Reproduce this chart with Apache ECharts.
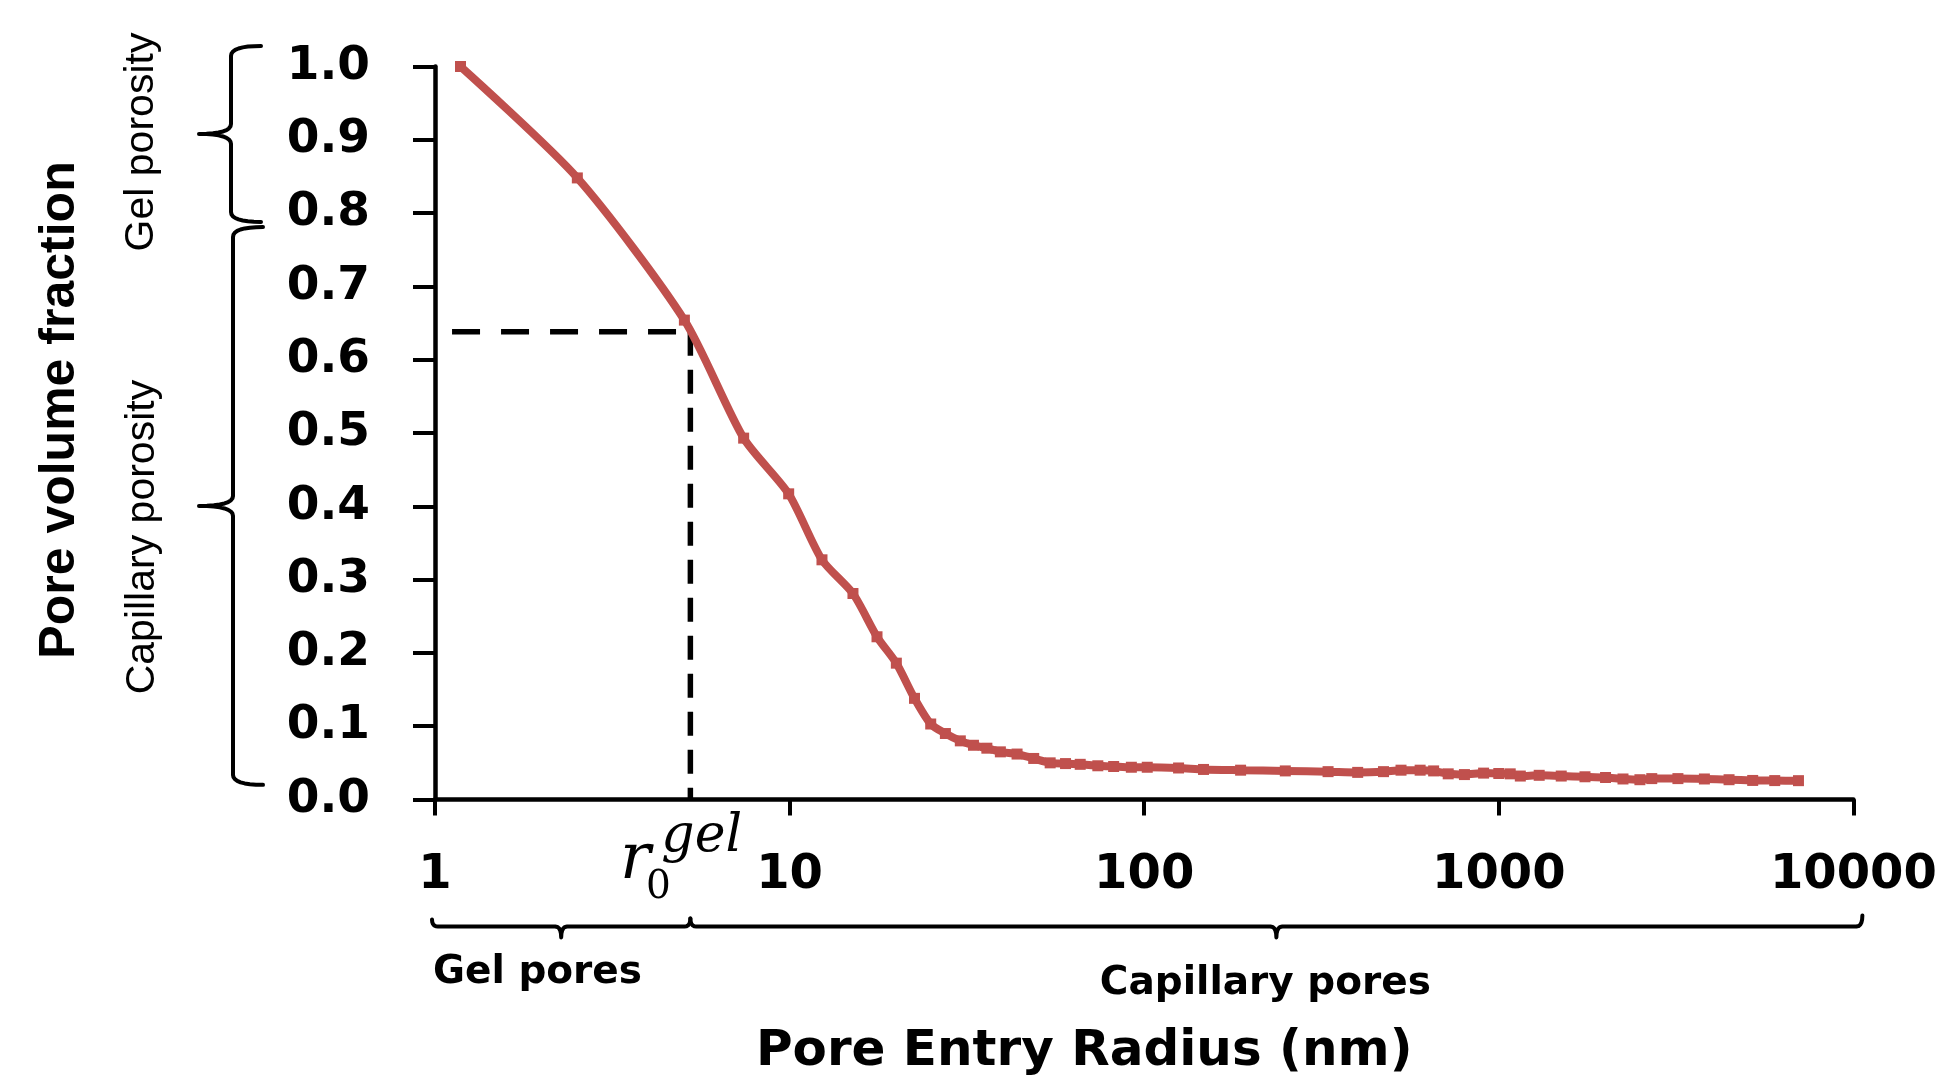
<!DOCTYPE html>
<html>
<head>
<meta charset="utf-8">
<script src="https://cdn.jsdelivr.net/npm/echarts@6/dist/echarts.min.js"></script>
<style>
  html, body { margin: 0; padding: 0; background: #ffffff; }
  #chart { width: 1948px; height: 1080px; }
</style>
</head>
<body>
<div id="chart"></div>
<script>
// Cumulative pore volume fraction against pore entry radius (nm)
const radiusNm = [
  1.18, 2.52, 5.05, 7.42, 9.94, 12.34, 15.09, 17.64, 20.0, 22.5,
  25.0, 27.5, 30.3, 33.0, 36.0, 39.3, 43.8, 48.8, 54.3, 60,
  66, 74, 82, 92, 102, 125, 147, 187, 250, 330,
  400, 473, 530, 600, 655, 720, 800, 906, 1000, 1077,
  1150, 1300, 1500, 1750, 2000, 2240, 2500, 2700, 3200, 3800,
  4460, 5200, 6000, 7000
];
const volumeFraction = [
  1.000, 0.848, 0.654, 0.493, 0.417, 0.327, 0.281, 0.222, 0.186, 0.138,
  0.103, 0.090, 0.080, 0.074, 0.070, 0.065, 0.062, 0.056, 0.050, 0.049,
  0.048, 0.046, 0.045, 0.044, 0.044, 0.043, 0.041, 0.040, 0.039, 0.038,
  0.037, 0.038, 0.040, 0.040, 0.039, 0.035, 0.034, 0.036, 0.0355, 0.035,
  0.032, 0.033, 0.032, 0.031, 0.030, 0.028, 0.027, 0.0285, 0.0285, 0.028,
  0.027, 0.026, 0.0258, 0.0257
];

// Axis ticks
const xTicks = [1, 10, 100, 1000, 10000];
const yTickLabels = ['0.0', '0.1', '0.2', '0.3', '0.4', '0.5', '0.6', '0.7', '0.8', '0.9', '1.0'];

// Gel pore entry radius threshold and the volume fraction it marks
const r0Gel = 5.25;
const r0Fraction = 0.638;
const guideStartRadius = 1.117;

// Annotated ranges
const gelPorosityRange = [0.788, 1.028];
const capillaryPorosityRange = [0.02, 0.781];
const gelPoresRange = [1, r0Gel];
const capillaryPoresRange = [r0Gel, 10600];

const curveData = radiusNm.map((r, i) => [r, volumeFraction[i]]);

const RED = '#C0504D';
const INK = '#000000';

const chart = echarts.init(document.getElementById('chart'), null, { renderer: 'canvas' });

const option = {
  backgroundColor: '#ffffff',
  animation: false,
  grid: { left: 435, right: 94.6, top: 66.5, bottom: 280.5, containLabel: false, outerBoundsMode: 'none' },
  xAxis: {
    type: 'log',
    logBase: 10,
    min: xTicks[0],
    max: xTicks[xTicks.length - 1],
    name: 'Pore Entry Radius (nm)',
    nameLocation: 'middle',
    nameGap: 228,
    nameTextStyle: {
      fontFamily: 'DejaVu Sans', fontWeight: 'bold', fontSize: 50, color: INK,
      padding: [0, 120, 0, 0]
    },
    axisLine: { show: true, onZero: false, lineStyle: { color: INK, width: 4.5 } },
    axisTick: { show: true, inside: false, length: 16, lineStyle: { color: INK, width: 4 } },
    minorTick: { show: false },
    splitLine: { show: false },
    axisLabel: {
      margin: 52,
      fontFamily: 'DejaVu Sans', fontWeight: 'bold', fontSize: 48, color: INK,
      formatter: v => String(Math.round(v))
    }
  },
  yAxis: {
    type: 'value',
    min: 0,
    max: 1,
    interval: 0.1,
    name: 'Pore volume fraction',
    nameLocation: 'middle',
    nameGap: 350,
    nameTextStyle: {
      fontFamily: 'Liberation Sans', fontWeight: 'bold', fontSize: 50, color: INK,
      padding: [0, 0, 0, 46]
    },
    axisLine: { show: true, onZero: false, lineStyle: { color: INK, width: 4.5 } },
    axisTick: { show: true, inside: false, length: 22, lineStyle: { color: INK, width: 4 } },
    splitLine: { show: false },
    axisLabel: {
      margin: 65,
      fontFamily: 'DejaVu Sans', fontWeight: 'bold', fontSize: 47, color: INK,
      formatter: v => yTickLabels[Math.round(v * 10)]
    }
  },
  series: [
    {
      name: 'guide-horizontal',
      type: 'line',
      data: [[guideStartRadius, r0Fraction], [r0Gel, r0Fraction]],
      symbol: 'none',
      silent: true,
      z: 1,
      lineStyle: { color: INK, width: 5.5, type: [28, 21] }
    },
    {
      name: 'guide-vertical',
      type: 'line',
      data: [[r0Gel, r0Fraction], [r0Gel, 0]],
      symbol: 'none',
      silent: true,
      z: 1,
      lineStyle: { color: INK, width: 5.5, type: [24, 14] }
    },
    {
      name: 'Pore volume fraction',
      type: 'line',
      data: curveData,
      smooth: 0.25,
      symbol: 'rect',
      symbolSize: 11,
      showSymbol: true,
      z: 3,
      itemStyle: { color: RED },
      lineStyle: { color: RED, width: 8 }
    }
  ]
};

chart.setOption(option);

// Annotation braces and labels, positioned through the axes
const toPx = (x, y) => chart.convertToPixel({ gridIndex: 0 }, [x, y]);
const axisOrigin = toPx(1, 0);
const axisX = axisOrigin[0];
const axisY = axisOrigin[1];

// Quadratic curve sampled into points (start point excluded)
function quad(p0, c, p1, n) {
  const pts = [];
  for (let i = 1; i <= n; i++) {
    const t = i / n, u = 1 - t;
    pts.push([u * u * p0[0] + 2 * u * t * c[0] + t * t * p1[0],
              u * u * p0[1] + 2 * u * t * c[1] + t * t * p1[1]]);
  }
  return pts;
}

// Curly brace opening to the right, tip pointing left
function verticalBrace(yTop, yBot, xSpine, xHook, xTip) {
  const yMid = (yTop + yBot) / 2;
  const r = 10;
  let pts = [[xHook, yTop]];
  pts = pts.concat(quad([xHook, yTop], [xSpine, yTop], [xSpine, yTop + r], 8));
  pts.push([xSpine, yMid - r]);
  pts = pts.concat(quad([xSpine, yMid - r], [xSpine, yMid], [xTip, yMid], 8));
  pts = pts.concat(quad([xTip, yMid], [xSpine, yMid], [xSpine, yMid + r], 8));
  pts.push([xSpine, yBot - r]);
  pts = pts.concat(quad([xSpine, yBot - r], [xSpine, yBot], [xHook, yBot], 8));
  return pts;
}

// Bracket under the axis, ends bent upward, tip pointing down
function horizontalBrace(xLeft, xRight, y, hookL, hookR, tip) {
  const xMid = (xLeft + xRight) / 2;
  const r = 6;
  let pts = [[xLeft, y - hookL]];
  pts = pts.concat(quad([xLeft, y - hookL], [xLeft, y], [xLeft + r, y], 5));
  pts.push([xMid - r, y]);
  pts = pts.concat(quad([xMid - r, y], [xMid, y], [xMid, y + tip], 5));
  pts = pts.concat(quad([xMid, y + tip], [xMid, y], [xMid + r, y], 5));
  pts.push([xRight - r, y]);
  pts = pts.concat(quad([xRight - r, y], [xRight, y], [xRight, y - hookR], 5));
  return pts;
}

const braceStyle = { stroke: INK, lineWidth: 4, fill: null, lineCap: 'round', lineJoin: 'round' };

const gelTop = toPx(1, gelPorosityRange[1])[1];
const gelBot = toPx(1, gelPorosityRange[0])[1];
const capTop = toPx(1, capillaryPorosityRange[1])[1];
const capBot = toPx(1, capillaryPorosityRange[0])[1];

// Log-scale midpoint of a radius range, in pixels
const logMidPx = range => toPx(Math.sqrt(range[0] * range[1]), 0)[0];

const gelL = toPx(gelPoresRange[0], 0)[0] - 3;
const gelR = toPx(gelPoresRange[1], 0)[0];
const capL = toPx(capillaryPoresRange[0], 0)[0];
const capR = toPx(capillaryPoresRange[1], 0)[0];
const bracketY = axisY + 127;
const xR0 = toPx(r0Gel, 0)[0];

const textBase = { fill: INK };

chart.setOption({
  graphic: [
    { type: 'polyline', silent: true, shape: { points: verticalBrace(gelTop, gelBot, axisX - 204, axisX - 174, axisX - 236) }, style: braceStyle },
    { type: 'polyline', silent: true, shape: { points: verticalBrace(capTop, capBot, axisX - 202, axisX - 172, axisX - 236) }, style: braceStyle },
    { type: 'polyline', silent: true, shape: { points: horizontalBrace(gelL, gelR, bracketY, 7, 8, 11) }, style: braceStyle },
    { type: 'polyline', silent: true, shape: { points: horizontalBrace(capL, capR, bracketY, 8, 11, 11) }, style: braceStyle },
    {
      type: 'text', silent: true, x: axisX - 293, y: toPx(1, 0.897)[1], rotation: Math.PI / 2,
      style: Object.assign({ text: 'Gel porosity', font: 'normal 41px "Liberation Sans", sans-serif', align: 'center', verticalAlign: 'middle' }, textBase)
    },
    {
      type: 'text', silent: true, x: axisX - 292, y: toPx(1, 0.358)[1], rotation: Math.PI / 2,
      style: Object.assign({ text: 'Capillary porosity', font: 'normal 41px "Liberation Sans", sans-serif', align: 'center', verticalAlign: 'middle' }, textBase)
    },
    {
      type: 'text', silent: true, x: gelL + 1, y: axisY + 173,
      style: Object.assign({ text: 'Gel pores', font: 'bold 39px "DejaVu Sans", sans-serif', align: 'left', verticalAlign: 'middle' }, textBase)
    },
    {
      type: 'text', silent: true, x: logMidPx(capillaryPoresRange) - 11, y: axisY + 184,
      style: Object.assign({ text: 'Capillary pores', font: 'bold 39px "DejaVu Sans", sans-serif', align: 'center', verticalAlign: 'middle' }, textBase)
    },
    {
      type: 'text', silent: true, x: xR0 - 55, y: axisY + 62,
      style: Object.assign({ text: 'r', font: 'italic 64px "DejaVu Serif", serif', align: 'center', verticalAlign: 'middle' }, textBase)
    },
    {
      type: 'text', silent: true, x: xR0 - 32, y: axisY + 88,
      style: Object.assign({ text: '0', font: 'normal 39px "DejaVu Serif", serif', align: 'center', verticalAlign: 'middle' }, textBase)
    },
    {
      type: 'text', silent: true, x: xR0 - 29, y: axisY + 38,
      style: Object.assign({ text: 'gel', font: 'italic 52px "DejaVu Serif", serif', align: 'left', verticalAlign: 'middle' }, textBase)
    }
  ]
});
</script>
</body>
</html>
